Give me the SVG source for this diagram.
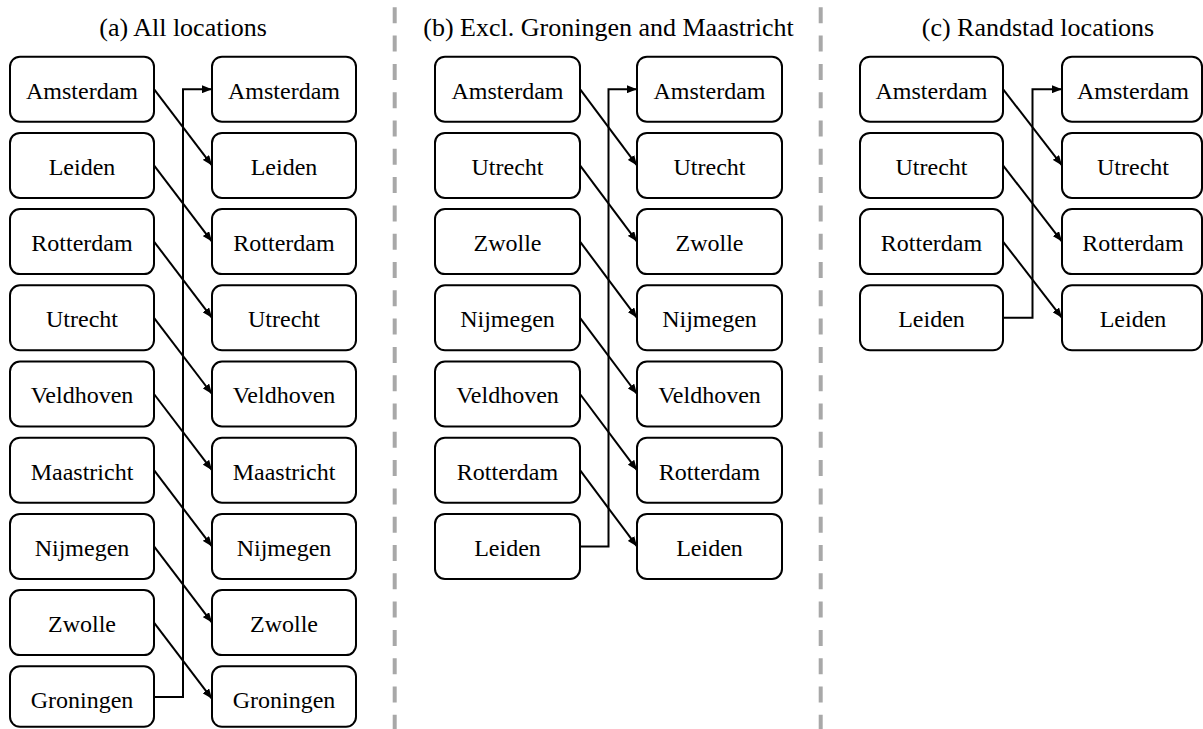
<svg xmlns="http://www.w3.org/2000/svg" width="1203" height="729" viewBox="0 0 1203 729">
<style>
.box{fill:#fff;stroke:#000;stroke-width:2}
.lbl{font-family:"Liberation Serif","Times New Roman",serif;font-size:24px;fill:#000;text-anchor:middle}
.ttl{font-family:"Liberation Serif","Times New Roman",serif;font-size:26px;fill:#000;text-anchor:middle}
.con{fill:none;stroke:#000;stroke-width:2;marker-end:url(#ah)}
.div{stroke:#a8a8a8;stroke-width:4;stroke-dasharray:16 12.3}
</style>
<defs>
<marker id="ah" markerUnits="userSpaceOnUse" markerWidth="10" markerHeight="8" refX="10" refY="4" orient="auto">
<path d="M0,0 L10,4 L0,8 z" fill="#000"/>
</marker>
</defs>
<rect width="1203" height="729" fill="#fff"/>
<g id="dividers">
<line class="div" x1="394.7" y1="7.3" x2="394.7" y2="729"/>
<line class="div" x1="820.7" y1="7.3" x2="820.7" y2="729"/>
</g>
<g id="titles">
<text class="ttl" x="183" y="36">(a) All locations</text>
<text class="ttl" x="608.5" y="36">(b) Excl. Groningen and Maastricht</text>
<text class="ttl" x="1038" y="36">(c) Randstad locations</text>
</g>
<g id="connectors">
<!-- panel a -->
<path class="con" d="M154,89.2 L212,165.4"/>
<path class="con" d="M154,165.4 L212,241.6"/>
<path class="con" d="M154,241.6 L212,317.8"/>
<path class="con" d="M154,317.8 L212,394"/>
<path class="con" d="M154,394 L212,470.2"/>
<path class="con" d="M154,470.2 L212,546.4"/>
<path class="con" d="M154,546.4 L212,622.6"/>
<path class="con" d="M154,622.6 L212,698.8"/>
<path class="con" d="M154,697 L183,697 L183,89.2 L212,89.2"/>
<!-- panel b -->
<path class="con" d="M580,89.2 L637,165.4"/>
<path class="con" d="M580,165.4 L637,241.6"/>
<path class="con" d="M580,241.6 L637,317.8"/>
<path class="con" d="M580,317.8 L637,394"/>
<path class="con" d="M580,394 L637,470.2"/>
<path class="con" d="M580,470.2 L637,546.4"/>
<path class="con" d="M580,546.4 L608.5,546.4 L608.5,89.2 L637,89.2"/>
<!-- panel c -->
<path class="con" d="M1003,89.2 L1062,165.4"/>
<path class="con" d="M1003,165.4 L1062,241.6"/>
<path class="con" d="M1003,241.6 L1062,317.8"/>
<path class="con" d="M1003,317.8 L1032.5,317.8 L1032.5,89.2 L1062,89.2"/>
</g>
<g id="a-l0"><rect class="box" x="10" y="56.7" width="144" height="65" rx="10"/><text class="lbl" x="82" y="98.5">Amsterdam</text></g>
<g id="a-l1"><rect class="box" x="10" y="132.9" width="144" height="65" rx="10"/><text class="lbl" x="82" y="174.7">Leiden</text></g>
<g id="a-l2"><rect class="box" x="10" y="209.1" width="144" height="65" rx="10"/><text class="lbl" x="82" y="250.9">Rotterdam</text></g>
<g id="a-l3"><rect class="box" x="10" y="285.3" width="144" height="65" rx="10"/><text class="lbl" x="82" y="327.1">Utrecht</text></g>
<g id="a-l4"><rect class="box" x="10" y="361.5" width="144" height="65" rx="10"/><text class="lbl" x="82" y="403.3">Veldhoven</text></g>
<g id="a-l5"><rect class="box" x="10" y="437.7" width="144" height="65" rx="10"/><text class="lbl" x="82" y="479.5">Maastricht</text></g>
<g id="a-l6"><rect class="box" x="10" y="513.9" width="144" height="65" rx="10"/><text class="lbl" x="82" y="555.7">Nijmegen</text></g>
<g id="a-l7"><rect class="box" x="10" y="590.1" width="144" height="65" rx="10"/><text class="lbl" x="82" y="631.9">Zwolle</text></g>
<g id="a-l8"><rect class="box" x="10" y="666.3" width="144" height="60.5" rx="10"/><text class="lbl" x="82" y="708.1">Groningen</text></g>
<g id="a-r0"><rect class="box" x="212" y="56.7" width="144" height="65" rx="10"/><text class="lbl" x="284" y="98.5">Amsterdam</text></g>
<g id="a-r1"><rect class="box" x="212" y="132.9" width="144" height="65" rx="10"/><text class="lbl" x="284" y="174.7">Leiden</text></g>
<g id="a-r2"><rect class="box" x="212" y="209.1" width="144" height="65" rx="10"/><text class="lbl" x="284" y="250.9">Rotterdam</text></g>
<g id="a-r3"><rect class="box" x="212" y="285.3" width="144" height="65" rx="10"/><text class="lbl" x="284" y="327.1">Utrecht</text></g>
<g id="a-r4"><rect class="box" x="212" y="361.5" width="144" height="65" rx="10"/><text class="lbl" x="284" y="403.3">Veldhoven</text></g>
<g id="a-r5"><rect class="box" x="212" y="437.7" width="144" height="65" rx="10"/><text class="lbl" x="284" y="479.5">Maastricht</text></g>
<g id="a-r6"><rect class="box" x="212" y="513.9" width="144" height="65" rx="10"/><text class="lbl" x="284" y="555.7">Nijmegen</text></g>
<g id="a-r7"><rect class="box" x="212" y="590.1" width="144" height="65" rx="10"/><text class="lbl" x="284" y="631.9">Zwolle</text></g>
<g id="a-r8"><rect class="box" x="212" y="666.3" width="144" height="60.5" rx="10"/><text class="lbl" x="284" y="708.1">Groningen</text></g>
<g id="b-l0"><rect class="box" x="435" y="56.7" width="145" height="65" rx="10"/><text class="lbl" x="507.5" y="98.5">Amsterdam</text></g>
<g id="b-l1"><rect class="box" x="435" y="132.9" width="145" height="65" rx="10"/><text class="lbl" x="507.5" y="174.7">Utrecht</text></g>
<g id="b-l2"><rect class="box" x="435" y="209.1" width="145" height="65" rx="10"/><text class="lbl" x="507.5" y="250.9">Zwolle</text></g>
<g id="b-l3"><rect class="box" x="435" y="285.3" width="145" height="65" rx="10"/><text class="lbl" x="507.5" y="327.1">Nijmegen</text></g>
<g id="b-l4"><rect class="box" x="435" y="361.5" width="145" height="65" rx="10"/><text class="lbl" x="507.5" y="403.3">Veldhoven</text></g>
<g id="b-l5"><rect class="box" x="435" y="437.7" width="145" height="65" rx="10"/><text class="lbl" x="507.5" y="479.5">Rotterdam</text></g>
<g id="b-l6"><rect class="box" x="435" y="513.9" width="145" height="65" rx="10"/><text class="lbl" x="507.5" y="555.7">Leiden</text></g>
<g id="b-r0"><rect class="box" x="637" y="56.7" width="145" height="65" rx="10"/><text class="lbl" x="709.5" y="98.5">Amsterdam</text></g>
<g id="b-r1"><rect class="box" x="637" y="132.9" width="145" height="65" rx="10"/><text class="lbl" x="709.5" y="174.7">Utrecht</text></g>
<g id="b-r2"><rect class="box" x="637" y="209.1" width="145" height="65" rx="10"/><text class="lbl" x="709.5" y="250.9">Zwolle</text></g>
<g id="b-r3"><rect class="box" x="637" y="285.3" width="145" height="65" rx="10"/><text class="lbl" x="709.5" y="327.1">Nijmegen</text></g>
<g id="b-r4"><rect class="box" x="637" y="361.5" width="145" height="65" rx="10"/><text class="lbl" x="709.5" y="403.3">Veldhoven</text></g>
<g id="b-r5"><rect class="box" x="637" y="437.7" width="145" height="65" rx="10"/><text class="lbl" x="709.5" y="479.5">Rotterdam</text></g>
<g id="b-r6"><rect class="box" x="637" y="513.9" width="145" height="65" rx="10"/><text class="lbl" x="709.5" y="555.7">Leiden</text></g>
<g id="c-l0"><rect class="box" x="860" y="56.7" width="143" height="65" rx="10"/><text class="lbl" x="931.5" y="98.5">Amsterdam</text></g>
<g id="c-l1"><rect class="box" x="860" y="132.9" width="143" height="65" rx="10"/><text class="lbl" x="931.5" y="174.7">Utrecht</text></g>
<g id="c-l2"><rect class="box" x="860" y="209.1" width="143" height="65" rx="10"/><text class="lbl" x="931.5" y="250.9">Rotterdam</text></g>
<g id="c-l3"><rect class="box" x="860" y="285.3" width="143" height="65" rx="10"/><text class="lbl" x="931.5" y="327.1">Leiden</text></g>
<g id="c-r0"><rect class="box" x="1062" y="56.7" width="140" height="65" rx="10"/><text class="lbl" x="1133" y="98.5">Amsterdam</text></g>
<g id="c-r1"><rect class="box" x="1062" y="132.9" width="140" height="65" rx="10"/><text class="lbl" x="1133" y="174.7">Utrecht</text></g>
<g id="c-r2"><rect class="box" x="1062" y="209.1" width="140" height="65" rx="10"/><text class="lbl" x="1133" y="250.9">Rotterdam</text></g>
<g id="c-r3"><rect class="box" x="1062" y="285.3" width="140" height="65" rx="10"/><text class="lbl" x="1133" y="327.1">Leiden</text></g>
</svg>
